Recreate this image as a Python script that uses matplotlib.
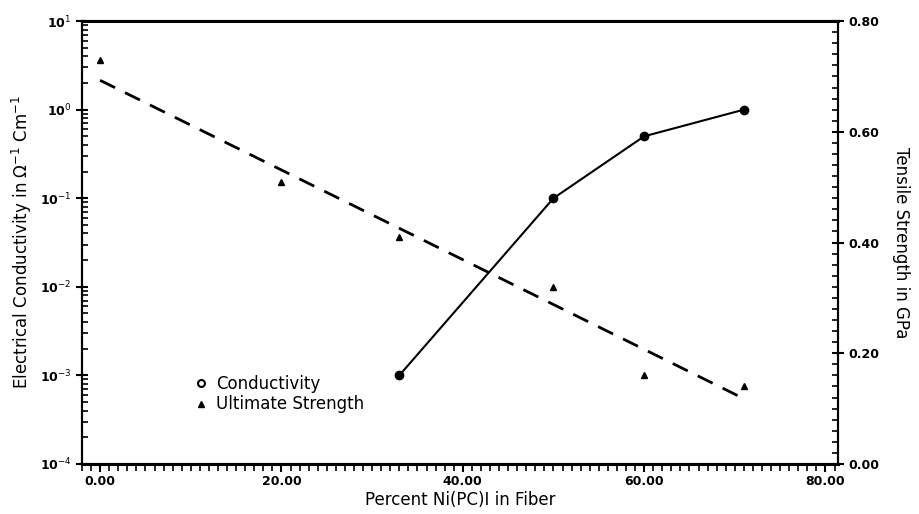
import matplotlib
matplotlib.use("Agg")
import matplotlib.pyplot as plt
from matplotlib.lines import Line2D
from matplotlib.ticker import MultipleLocator, LogLocator, NullFormatter, FixedLocator

# conductivity (left, log axis)
cond_x = [33, 50, 60, 71]
cond_y = [1e-3, 1e-1, 0.5, 1.0]

# ultimate strength (right axis, GPa)
str_x = [0, 20, 33, 50, 60, 71]
str_y = [0.73, 0.51, 0.41, 0.32, 0.16, 0.14]

# dashed trend line for strength
fit_x = [0, 71]
fit_y = [0.693, 0.118]

x_ticks = [0, 20, 40, 60, 80]
x_labels = ["0.00", "20.00", "40.00", "60.00", "80.00"]
left_ticks = [1e1, 1e0, 1e-1, 1e-2, 1e-3, 1e-4]
left_labels = ["10$^{1}$", "10$^{0}$", "10$^{-1}$", "10$^{-2}$", "10$^{-3}$", "10$^{-4}$"]
right_ticks = [0.0, 0.2, 0.4, 0.6, 0.8]
right_labels = ["0.00", "0.20", "0.40", "0.60", "0.80"]

fig = plt.figure(figsize=(9.19, 5.14), dpi=100)
ax = fig.add_axes([0.0892, 0.0973, 0.8228, 0.8617])
ax2 = ax.twinx()

ax.plot(cond_x, cond_y, "-", color="black", lw=1.5, marker="o", ms=6)
ax.set_yscale("log")
ax.set_ylim(1e-4, 1e1)
ax.set_xlim(-2, 81.4)

ax2.plot(fit_x, fit_y, "--", color="black", lw=2, dashes=(6, 4))
ax2.plot(str_x, str_y, "^", color="black", ms=5, ls="none")
ax2.set_ylim(0, 0.8)

ax.xaxis.set_major_locator(FixedLocator(x_ticks))
ax.set_xticklabels(x_labels, fontsize=9, fontweight="bold")
ax.xaxis.set_minor_locator(MultipleLocator(1))
ax.tick_params(axis="x", which="major", direction="out", length=6, width=1.5, pad=2)
ax.tick_params(axis="x", which="minor", direction="out", length=5, width=1.2)

ax.yaxis.set_major_locator(FixedLocator(left_ticks))
ax.set_yticklabels(left_labels, fontsize=9, fontweight="bold")
ax.yaxis.set_minor_locator(LogLocator(base=10, subs=range(2, 10)))
ax.yaxis.set_minor_formatter(NullFormatter())
ax.tick_params(axis="y", which="major", direction="inout", length=8, width=1.5)
ax.tick_params(axis="y", which="minor", direction="in", length=4, width=1.2)

ax2.yaxis.set_major_locator(FixedLocator(right_ticks))
ax2.set_yticklabels(right_labels, fontsize=9, fontweight="bold")
ax2.yaxis.set_minor_locator(MultipleLocator(0.02))
ax2.tick_params(axis="y", which="major", direction="inout", length=8, width=1.5)
ax2.tick_params(axis="y", which="minor", direction="in", length=4, width=1.2)

for a in (ax, ax2):
    for s in a.spines.values():
        s.set_linewidth(1.5)
ax.spines["top"].set_linewidth(2.2)
ax.spines["bottom"].set_linewidth(2.2)

ax.set_xlabel("Percent Ni(PC)I in Fiber", fontsize=12, labelpad=2)
ax.set_ylabel("Electrical Conductivity in $\\Omega^{-1}$ Cm$^{-1}$", fontsize=12, labelpad=4)
ax2.set_ylabel("Tensile Strength in GPa", fontsize=12, rotation=270, labelpad=22)

handles = [
    Line2D([], [], ls="none", marker="o", mfc="none", mec="black", mew=1.5, ms=5),
    Line2D([], [], ls="none", marker="^", color="black", ms=4),
]
ax.legend(handles, ["Conductivity", "Ultimate Strength"], loc="upper left",
          bbox_to_anchor=(0.125, 0.235), frameon=False, fontsize=12,
          handletextpad=0.3, labelspacing=0.15, handlelength=1.2)

plt.savefig("out.png", dpi=100)
